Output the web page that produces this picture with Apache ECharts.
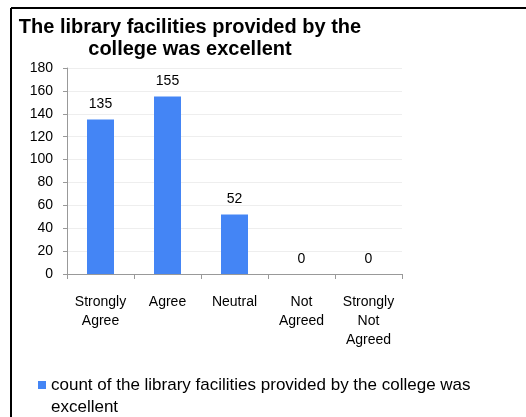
<!DOCTYPE html>
<html>
<head>
<meta charset="utf-8">
<script src="https://cdn.jsdelivr.net/npm/echarts@6/dist/echarts.min.js"></script>
<style>
html,body{margin:0;padding:0;background:#fff;}
#chart{width:526px;height:417px;}
</style>
</head>
<body>
<div id="chart"></div>
<script>
const titleText = "The library facilities provided by the\ncollege was excellent";
const categories = ["Strongly\nAgree", "Agree", "Neutral", "Not\nAgreed", "Strongly\nNot\nAgreed"];
const counts = [135, 155, 52, 0, 0];
const seriesName = "count of the library facilities provided by the college was excellent";
const legendLines = ["count of the library facilities provided by the college was", "excellent"];
const yTicks = { min: 0, max: 180, interval: 20 };

const FONT = 'Arial, "Liberation Sans", sans-serif';
const chart = echarts.init(document.getElementById('chart'), null, { renderer: 'canvas' });
chart.setOption({
  animation: false,
  backgroundColor: '#fff',
  textStyle: { fontFamily: FONT },
  title: {
    text: titleText,
    left: 190,
    textAlign: 'center',
    top: 16,
    padding: 0,
    textStyle: { fontFamily: FONT, fontSize: 20, fontWeight: 'bold', color: '#000', lineHeight: 22 }
  },
  grid: { left: 67, right: 124, top: 68, bottom: 143 },
  xAxis: {
    type: 'category',
    data: categories,
    axisLine: { lineStyle: { color: '#999', width: 1 } },
    axisTick: { show: true, length: 5, lineStyle: { color: '#999' }, alignWithLabel: false },
    axisLabel: { fontFamily: FONT, fontSize: 14, color: '#000', lineHeight: 19, margin: 19, interval: 0 },
    splitLine: { show: false }
  },
  yAxis: {
    type: 'value',
    min: yTicks.min,
    max: yTicks.max,
    interval: yTicks.interval,
    axisLine: { show: true, lineStyle: { color: '#999', width: 1 } },
    axisTick: { show: true, length: 4, lineStyle: { color: '#999' } },
    axisLabel: { fontFamily: FONT, fontSize: 14, color: '#000', margin: 14 },
    splitLine: { show: true, lineStyle: { color: '#eeeeee', width: 1 } }
  },
  legend: {
    left: 38,
    top: 352,
    itemWidth: 8,
    itemHeight: 8,
    icon: 'rect',
    padding: 0,
    data: [seriesName],
    formatter: function () {
      return " \n" + legendLines.join("\n");
    },
    textStyle: { fontFamily: FONT, fontSize: 17, color: '#000', lineHeight: 22 }
  },
  series: [{
    name: seriesName,
    type: 'bar',
    data: counts,
    barWidth: 27,
    itemStyle: { color: '#4485F5' },
    label: { show: true, position: 'top', distance: 8, fontFamily: FONT, fontSize: 14, color: '#000' }
  }],
  graphic: [
    { type: 'line', shape: { x1: 11, y1: 8, x2: 526, y2: 8 }, style: { stroke: '#000', lineWidth: 2 }, silent: true },
    { type: 'line', shape: { x1: 11, y1: 8, x2: 11, y2: 417 }, style: { stroke: '#000', lineWidth: 2 }, silent: true }
  ]
});
</script>
</body>
</html>
